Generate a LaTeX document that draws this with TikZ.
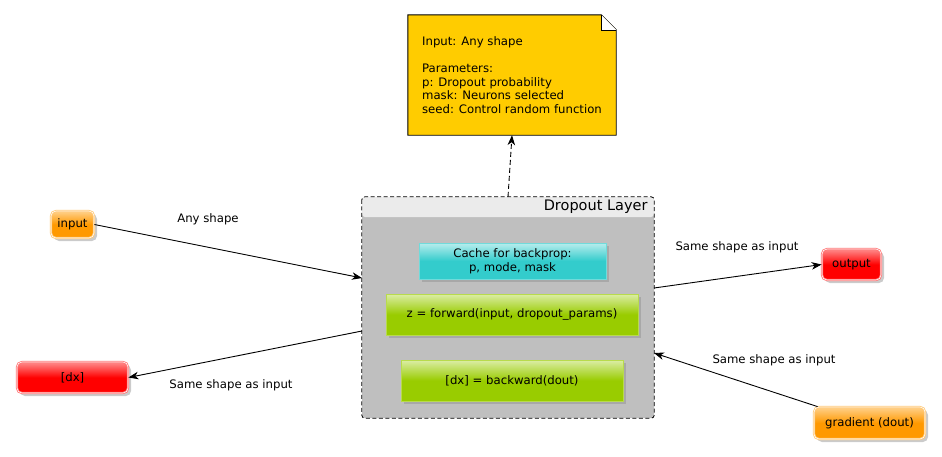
\documentclass[tikz,border=0pt]{standalone}
\usepackage{fontspec}
\setmainfont{DejaVu Sans}
\usetikzlibrary{arrows.meta,shadows,calc}

\definecolor{notegold}{HTML}{FFCC00}
\definecolor{layergray}{HTML}{BFBFBF}
\definecolor{headgray}{HTML}{EBEBEB}
\definecolor{cachecyan}{HTML}{33CCCC}
\definecolor{opgreen}{HTML}{99CC00}
\definecolor{ioorange}{HTML}{FF9900}
\definecolor{iored}{HTML}{FF0000}

\tikzset{
  lbl/.style={font=\fontsize{11.7}{13.7}\selectfont},
  shadowed/.style={drop shadow={shadow xshift=3pt, shadow yshift=-3pt, fill=black!45, opacity=.45}},
  endpoint/.style={lbl, shadowed, rounded corners=5pt, draw=#1!55!white, line width=.8pt,
    double=white, double distance=.6pt, top color=#1!45!white, bottom color=#1, middle color=#1,
    inner sep=0pt},
  opbox/.style={lbl, shadowed, draw=#1!70!white, line width=.5pt, top color=#1!35!white,
    bottom color=#1, middle color=#1, inner sep=0pt, align=center},
  flow/.style={-{Stealth[length=10pt, width=7.5pt, inset=3pt]}, line width=.9pt},
  dashline/.style={dash pattern=on 5pt off 3pt}
}

\begin{document}
\begin{tikzpicture}[x=1pt, y=-1pt]
  \useasboundingbox (0,0) rectangle (942,456);

  % note with parameters
  \node (note) [minimum width=208pt, minimum height=120pt] at (512,75) {};
  \draw[line width=.9pt, fill=notegold] (note.north west) -- ($(note.north east)+(-15,0)$)
    -- ($(note.north east)+(0,15)$) -- (note.south east) -- (note.south west) -- cycle;
  \draw[line width=.6pt, fill=white] ($(note.north east)+(-15,0)$) -- ($(note.north east)+(-15,15)$)
    -- ($(note.north east)+(0,15)$);
  \node (notetext) [lbl, align=left] at (note.center)
    {Input: Any shape\\[13.7pt]Parameters:\\p: Dropout probability\\mask: Neurons selected\\seed: Control random function};

  % the layer
  \node (layer) [minimum width=292pt, minimum height=221pt, fill=layergray, rounded corners=3pt,
    path picture={\fill[headgray] (path picture bounding box.north west)
      rectangle ([yshift=-20pt]path picture bounding box.north east);}] at (508,307.5) {};
  \draw[dash pattern=on 4pt off 2.5pt, line width=.8pt, rounded corners=3pt] (layer.north west) rectangle (layer.south east);
  \node (title) [anchor=east, font=\fontsize{14.5}{16}\selectfont] at (651,207) {Dropout Layer};

  \node (cache) [opbox=cachecyan, minimum width=187pt, minimum height=36pt] at (512.5,261)
    {Cache for backprop:\\p, mode, mask};
  \node (fwd) [opbox=opgreen, minimum width=252pt, minimum height=41pt] at (512,314.5)
    {z = forward(input, dropout\_params)};
  \node (bwd) [opbox=opgreen, minimum width=222pt, minimum height=41pt] at (512,380.5)
    {[dx] = backward(dout)};

  % inputs and outputs
  \node (input) [endpoint=ioorange, minimum width=43pt, minimum height=27pt] at (72.5,224.5) {input};
  \node (output) [endpoint=iored, minimum width=59pt, minimum height=31pt] at (851.5,264.5) {output};
  \node (dx) [endpoint=iored, minimum width=111pt, minimum height=31pt] at (72.5,377.5) {[dx]};
  \node (grad) [endpoint=ioorange, minimum width=111pt, minimum height=32pt] at (869.5,423) {gradient (dout)};

  \coordinate (inL) at (362,278);
  \coordinate (outR) at (654,288);
  \coordinate (dxL) at (362,331);
  \coordinate (gradR) at (654,353);

  \draw[flow, dashline] (layer.north) -- (note.south);
  \draw[flow] (input.east) -- (inL);
  \draw[flow] (outR) -- (output.west);
  \draw[flow] (dxL) -- (dx.east);
  \draw[flow] (grad.north west) ++(4,0) -- (gradR);

  \node (anyshape) [lbl] at (208,219) {Any shape};
  \node (sameout) [lbl] at (737,247) {Same shape as input};
  \node (samedx) [lbl] at (231,385) {Same shape as input};
  \node (samegrad) [lbl] at (774,360) {Same shape as input};
\end{tikzpicture}
\end{document}
